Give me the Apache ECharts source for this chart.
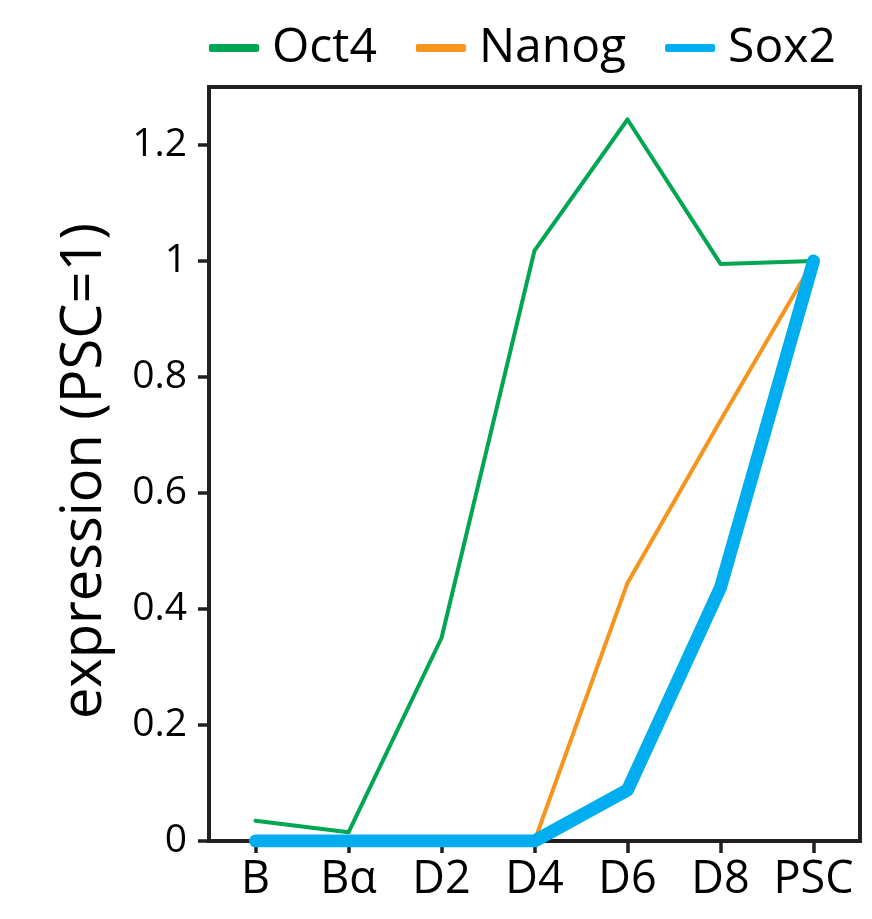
<!DOCTYPE html>
<html>
<head>
<meta charset="utf-8">
<script src="https://cdn.jsdelivr.net/npm/echarts@6/dist/echarts.min.js"></script>
<style>
html,body{margin:0;padding:0;background:#fff;}
#c{width:872px;height:919px;}
</style>
</head>
<body>
<div id="c"></div>
<script>
const categories = ['B', 'Bα', 'D2', 'D4', 'D6', 'D8', 'PSC'];
const oct4 = [0.035, 0.015, 0.35, 1.018, 1.244, 0.995, 1.0];
const nanog = [0, 0, 0, 0, 0.445, 0.725, 1.0];
const sox2 = [0, 0, 0, 0, 0.088, 0.437, 1.0];
const yTicks = [0, 0.2, 0.4, 0.6, 0.8, 1.0, 1.2];

const FONT = '"Open Sans", "Noto Sans", sans-serif';
const INK = '#231f20';

const chart = echarts.init(document.getElementById('c'), null, {renderer: 'canvas'});
chart.setOption({
  animation: false,
  backgroundColor: '#ffffff',
  legend: {
    left: 204,
    top: 19,
    icon: 'roundRect',
    itemWidth: 50,
    itemHeight: 8,
    itemGap: 39,
    textStyle: {fontFamily: FONT, fontSize: 48, color: '#000', padding: [0, 0, 0, 8]},
    data: ['Oct4', 'Nanog', 'Sox2']
  },
  grid: {
    left: 209, right: 12, top: 87, bottom: 78,
    show: true, borderColor: INK, borderWidth: 4, backgroundColor: 'transparent'
  },
  xAxis: {
    type: 'category',
    data: categories,
    boundaryGap: true,
    axisLine: {show: true, lineStyle: {color: INK, width: 4}},
    axisTick: {show: true, alignWithLabel: true, length: 12, lineStyle: {color: INK, width: 3.5}},
    axisLabel: {fontFamily: FONT, fontSize: 45, color: '#000', margin: 17, interval: 0}
  },
  yAxis: {
    type: 'value',
    min: 0, max: 1.3,
    name: 'expression (PSC=1)',
    nameLocation: 'middle',
    nameGap: 96,
    nameTextStyle: {fontFamily: FONT, fontSize: 56, color: '#000', padding: [0, 14, 0, 0]},
    splitLine: {show: false},
    axisLine: {show: true, lineStyle: {color: INK, width: 4}},
    axisTick: {show: true, length: 11, customValues: yTicks, lineStyle: {color: INK, width: 3.5}},
    axisLabel: {fontFamily: FONT, fontSize: 39, color: '#000', margin: 22, customValues: yTicks}
  },
  series: [
    {name: 'Oct4', type: 'line', data: oct4, symbol: 'none', z: 2,
     itemStyle: {color: '#00a651'},
     lineStyle: {color: '#00a651', width: 4, cap: 'round', join: 'round'}},
    {name: 'Nanog', type: 'line', data: nanog, symbol: 'none', z: 3,
     itemStyle: {color: '#f7941d'},
     lineStyle: {color: '#f7941d', width: 4, cap: 'round', join: 'round'}},
    {name: 'Sox2', type: 'line', data: sox2, symbol: 'none', z: 4,
     itemStyle: {color: '#00aeef'},
     lineStyle: {color: '#00aeef', width: 13, cap: 'round', join: 'round'}}
  ]
});
</script>
</body>
</html>
